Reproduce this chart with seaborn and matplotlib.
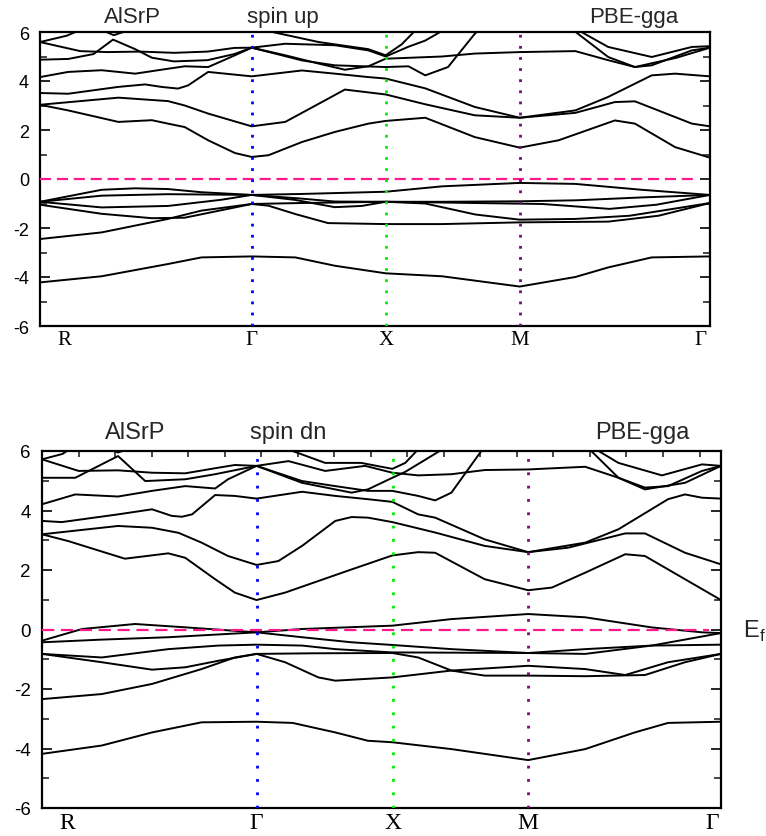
import matplotlib
matplotlib.use("Agg")
import matplotlib.pyplot as plt
import numpy as np
import pandas as pd
import seaborn as sns
from matplotlib.ticker import MultipleLocator
from matplotlib.transforms import ScaledTranslation

# ---------------- data ----------------
KPOINT_POS = [0.0, 0.316, 0.517, 0.716, 1.0]
KPOINT_LABELS = ["R", "Γ", "X", "M", "Γ"]
E_FERMI = 0.0

# spin up bands (k, E)
UP_V1 = [(0,-4.22),(0.092,-3.97),(0.191,-3.47),(0.241,-3.2),(0.316,-3.16),(0.381,-3.2),(0.44,-3.54),(0.516,-3.85),(0.6,-3.97),(0.716,-4.39),(0.799,-4.0),(0.848,-3.61),(0.913,-3.2),(1.0,-3.16)]
UP_V2 = [(0,-2.45),(0.092,-2.18),(0.191,-1.63),(0.241,-1.29),(0.316,-1.02),(0.341,-1.09),(0.381,-1.43),(0.43,-1.8),(0.516,-1.84),(0.6,-1.84),(0.716,-1.77),(0.848,-1.74),(0.923,-1.50),(1.0,-0.98)]
UP_V3 = [(0,-1.05),(0.092,-1.42),(0.167,-1.6),(0.216,-1.58),(0.266,-1.3),(0.316,-1.02),(0.391,-0.98),(0.44,-0.96),(0.516,-0.93),(0.575,-1.0),(0.65,-1.45),(0.716,-1.66),(0.799,-1.63),(0.88,-1.5),(1.0,-0.98)]
UP_V4 = [(0,-0.93),(0.092,-1.16),(0.191,-1.1),(0.27,-0.85),(0.316,-0.65),(0.38,-0.85),(0.44,-1.15),(0.48,-1.1),(0.516,-0.93),(0.6,-0.96),(0.75,-1.02),(0.85,-1.22),(0.92,-1.05),(1.0,-0.65)]
UP_V5 = [(0,-0.93),(0.092,-0.68),(0.191,-0.62),(0.316,-0.65),(0.39,-0.8),(0.44,-0.92),(0.516,-0.93),(0.6,-0.93),(0.716,-0.91),(0.8,-0.87),(0.9,-0.75),(1.0,-0.65)]
UP_V6 = [(0,-0.93),(0.092,-0.44),(0.142,-0.38),(0.191,-0.41),(0.241,-0.54),(0.316,-0.65),(0.391,-0.61),(0.516,-0.52),(0.6,-0.30),(0.716,-0.16),(0.799,-0.2),(0.898,-0.44),(1.0,-0.65)]
UP_C1 = [(0,3.03),(0.042,2.8),(0.117,2.33),(0.167,2.4),(0.191,2.26),(0.216,2.12),(0.251,1.58),(0.291,1.06),(0.316,0.90),(0.341,0.97),(0.391,1.51),(0.44,1.92),(0.49,2.26),(0.516,2.37),(0.575,2.50),(0.649,1.71),(0.716,1.28),(0.774,1.58),(0.858,2.39),(0.888,2.26),(0.948,1.3),(1.0,0.87)]
UP_C2 = [(0,3.03),(0.117,3.32),(0.191,3.18),(0.216,3.0),(0.251,2.67),(0.316,2.15),(0.366,2.33),(0.416,3.07),(0.455,3.65),(0.516,3.45),(0.575,3.05),(0.649,2.6),(0.716,2.5),(0.799,2.7),(0.858,3.14),(0.888,3.17),(0.973,2.26),(1.0,2.15)]
UP_C3 = [(0,3.51),(0.042,3.48),(0.117,3.76),(0.157,3.86),(0.181,3.76),(0.206,3.69),(0.221,3.82),(0.251,4.37),(0.316,4.19),(0.391,4.43),(0.44,4.3),(0.49,4.16),(0.516,4.1),(0.575,3.7),(0.649,2.94),(0.716,2.5),(0.799,2.8),(0.848,3.35),(0.913,4.23),(0.948,4.3),(1.0,4.19)]
UP_C4 = [(0,4.16),(0.042,4.37),(0.092,4.44),(0.142,4.3),(0.191,4.5),(0.216,4.6),(0.251,4.57),(0.291,5.05),(0.316,5.36),(0.391,4.84),(0.44,4.64),(0.516,4.57),(0.55,4.6),(0.575,4.23),(0.609,4.57),(0.649,5.93),(0.66,6.2)]
UP_C5 = [(0,4.87),(0.042,4.9),(0.08,5.1),(0.109,5.69),(0.142,5.3),(0.167,4.95),(0.2,4.8),(0.25,4.85),(0.29,5.1),(0.316,5.36),(0.366,5.05),(0.416,4.71),(0.455,4.46),(0.49,4.6),(0.516,4.91),(0.6,5.0),(0.649,5.12),(0.716,5.18),(0.799,5.22),(0.848,4.85),(0.888,4.57),(0.913,4.64),(0.973,5.25),(1.0,5.36)]
UP_C6 = [(0,5.59),(0.06,5.22),(0.1,5.18),(0.15,5.2),(0.2,5.15),(0.25,5.2),(0.29,5.35),(0.316,5.36),(0.366,5.52),(0.44,5.46),(0.49,5.25),(0.516,5.0),(0.55,5.4),(0.575,5.65),(0.61,6.2)]
UP_C7 = [(0,5.59),(0.04,5.85),(0.07,6.2)]
UP_C8 = [(0.095,6.05),(0.11,5.87),(0.13,6.05)]
UP_C9 = [(0.33,6.1),(0.416,5.59),(0.49,5.3),(0.516,5.05),(0.54,5.5),(0.565,6.2)]
UP_C10 = [(0.79,6.2),(0.848,4.98),(0.888,4.57),(0.95,4.95),(1.0,5.36)]
UP_C11 = [(0.795,6.2),(0.848,5.39),(0.913,4.98),(0.973,5.39),(1.0,5.42)]

# spin down bands (k, E)
DN_V1 = [(0,-4.18),(0.088,-3.90),(0.162,-3.46),(0.235,-3.12),(0.316,-3.10),(0.369,-3.14),(0.432,-3.46),(0.48,-3.74),(0.516,-3.79),(0.603,-4.02),(0.716,-4.39),(0.8,-4.02),(0.873,-3.46),(0.922,-3.14),(1.0,-3.10)]
DN_V2 = [(0,-2.34),(0.088,-2.17),(0.162,-1.83),(0.235,-1.33),(0.284,-0.94),(0.316,-0.82),(0.358,-1.10),(0.407,-1.61),(0.432,-1.72),(0.516,-1.61),(0.603,-1.38),(0.716,-1.22),(0.8,-1.33),(0.859,-1.53),(0.922,-1.10),(1.0,-0.82)]
DN_V3 = [(0,-0.82),(0.088,-1.10),(0.162,-1.35),(0.211,-1.27),(0.26,-1.05),(0.316,-0.82),(0.4,-0.80),(0.516,-0.79),(0.554,-0.94),(0.603,-1.38),(0.652,-1.55),(0.716,-1.55),(0.8,-1.57),(0.888,-1.53),(0.947,-1.10),(1.0,-0.82)]
DN_V4 = [(0,-0.82),(0.088,-0.94),(0.186,-0.66),(0.26,-0.54),(0.316,-0.51),(0.383,-0.54),(0.432,-0.66),(0.516,-0.77),(0.716,-0.79),(0.8,-0.66),(0.898,-0.54),(1.0,-0.51)]
DN_V5 = [(0,-0.43),(0.088,-0.34),(0.186,-0.26),(0.316,-0.095),(0.383,-0.26),(0.456,-0.43),(0.516,-0.52),(0.603,-0.66),(0.716,-0.79),(0.8,-0.82),(0.898,-0.54),(1.0,-0.12)]
DN_V6 = [(0,-0.376),(0.059,0.017),(0.137,0.185),(0.211,0.073),(0.316,-0.095),(0.383,0.017),(0.516,0.129),(0.603,0.35),(0.716,0.52),(0.8,0.41),(0.898,0.07),(0.972,-0.095),(1.0,-0.12)]
DN_C1 = [(0,3.20),(0.039,2.97),(0.122,2.38),(0.186,2.56),(0.211,2.41),(0.255,1.69),(0.284,1.24),(0.316,0.99),(0.358,1.24),(0.407,1.63),(0.456,2.02),(0.516,2.49),(0.554,2.6),(0.579,2.58),(0.652,1.69),(0.716,1.32),(0.751,1.41),(0.8,1.91),(0.859,2.53),(0.888,2.47),(0.947,1.69),(1.0,0.99)]
DN_C2 = [(0,3.20),(0.112,3.48),(0.162,3.42),(0.201,3.25),(0.235,2.92),(0.274,2.47),(0.316,2.17),(0.348,2.30),(0.383,2.81),(0.432,3.65),(0.456,3.78),(0.48,3.76),(0.516,3.61),(0.579,3.26),(0.652,2.81),(0.716,2.60),(0.775,2.75),(0.824,3.03),(0.859,3.23),(0.888,3.23),(0.947,2.58),(1.0,2.19)]
DN_C3 = [(0,3.65),(0.029,3.61),(0.112,3.87),(0.162,4.04),(0.191,3.82),(0.206,3.79),(0.221,3.87),(0.255,4.52),(0.284,4.49),(0.316,4.40),(0.383,4.63),(0.432,4.49),(0.48,4.38),(0.516,4.29),(0.554,3.87),(0.579,3.76),(0.652,3.03),(0.716,2.60),(0.8,2.92),(0.849,3.37),(0.922,4.38),(0.947,4.54),(0.972,4.43),(1.0,4.40)]
DN_C4 = [(0,4.21),(0.049,4.54),(0.112,4.47),(0.162,4.66),(0.211,4.82),(0.255,4.74),(0.274,5.05),(0.316,5.50),(0.383,4.99),(0.432,4.82),(0.48,4.66),(0.516,4.66),(0.554,4.49),(0.579,4.34),(0.603,4.6),(0.647,6.0),(0.652,6.2)]
DN_C5 = [(0,5.10),(0.049,5.10),(0.112,5.83),(0.152,4.99),(0.211,5.05),(0.255,5.22),(0.316,5.50),(0.383,4.93),(0.456,4.6),(0.48,4.71),(0.516,5.1),(0.535,5.3),(0.564,5.7),(0.6,6.2)]
DN_C6 = [(0,5.72),(0.054,5.33),(0.112,5.35),(0.162,5.27),(0.211,5.25),(0.26,5.44),(0.284,5.53),(0.316,5.50),(0.363,5.66),(0.417,5.33),(0.476,5.5),(0.516,5.27),(0.554,5.18),(0.603,5.22),(0.652,5.36),(0.716,5.38),(0.8,5.47),(0.849,5.1),(0.888,4.77),(0.922,4.82),(0.972,5.33),(1.0,5.50)]
DN_C7 = [(0,5.72),(0.03,5.9),(0.05,6.2)]
DN_C8 = [(0.1,6.05),(0.112,5.95),(0.125,6.05)]
DN_C9 = [(0.345,6.2),(0.417,5.6),(0.47,5.6),(0.516,5.4),(0.535,5.6),(0.56,6.2)]
DN_C10 = [(0.8,6.2),(0.849,5.1),(0.888,4.71),(0.947,4.93),(1.0,5.5)]
DN_C11 = [(0.805,6.2),(0.849,5.6),(0.913,5.18),(0.972,5.55),(1.0,5.5)]

UP_BANDS = [UP_V1, UP_V2, UP_V3, UP_V4, UP_V5, UP_V6, UP_C1, UP_C2, UP_C3, UP_C4,
            UP_C5, UP_C6, UP_C7, UP_C8, UP_C9, UP_C10, UP_C11]
DN_BANDS = [DN_V1, DN_V2, DN_V3, DN_V4, DN_V5, DN_V6, DN_C1, DN_C2, DN_C3, DN_C4,
            DN_C5, DN_C6, DN_C7, DN_C8, DN_C9, DN_C10, DN_C11]

Y_TICKS = [-6, -4, -2, 0, 2, 4, 6]


def to_frame(bands):
    rows = []
    for i, band in enumerate(bands):
        for k, e in band:
            rows.append((i, k, e))
    return pd.DataFrame(rows, columns=["band", "k", "E"])


# ---------------- figure ----------------
sns.set_theme(style="white")
plt.rcParams["font.family"] = ["Liberation Sans", "DejaVu Sans"]

fig = plt.figure(figsize=(7.66, 8.37), dpi=100)
ax_up = fig.add_axes([40 / 766, 1 - 327 / 837, 670 / 766, 294 / 837])
ax_dn = fig.add_axes([42 / 766, 1 - 809 / 837, 679 / 766, 357 / 837])

vcolors = ["#0000ff", "#00ee00", "#800080"]


def draw_panel(ax, bands, tick_fs, xlab_fs, dot_gap, dash, r_shift, g_shift, top_ticks):
    df = to_frame(bands)
    sns.lineplot(data=df, x="k", y="E", units="band", estimator=None, sort=False,
                 color="black", linewidth=1.4, ax=ax, legend=False)
    ax.axhline(E_FERMI, xmin=0, xmax=0.982, color="#ff1a8c", lw=1.6, dashes=dash, zorder=4)
    for kx, c in zip(KPOINT_POS[1:4], vcolors):
        ax.axvline(kx, color=c, lw=2.0, linestyle=(0, (1, dot_gap)), zorder=5)
    ax.set_xlim(0, 1)
    ax.set_ylim(-6, 6)
    ax.set_xlabel("")
    ax.set_ylabel("")
    for s in ax.spines.values():
        s.set_color("black")
        s.set_linewidth(1.6)
    ax.set_yticks(Y_TICKS)
    ax.set_yticklabels([str(t) for t in Y_TICKS], fontsize=tick_fs)
    ax.yaxis.set_minor_locator(MultipleLocator(1))
    ax.tick_params(axis="y", which="major", direction="in", left=True, right=True,
                   length=7, width=1.2, pad=8, colors="black")
    ax.tick_params(axis="y", which="minor", direction="in", left=True, right=True,
                   length=5, width=1.2)
    ax.set_xticks(KPOINT_POS)
    ax.set_xticklabels(KPOINT_LABELS, fontsize=xlab_fs, family=["Liberation Serif", "DejaVu Serif"])
    ax.tick_params(axis="x", which="major", length=0, pad=3, colors="black")
    if top_ticks:
        ax.xaxis.set_minor_locator(MultipleLocator(0.0538))
        ax.tick_params(axis="x", which="minor", direction="in", top=True, bottom=False,
                       length=4, width=1.2)
    labels = ax.get_xticklabels()
    labels[0].set_transform(labels[0].get_transform() + ScaledTranslation(r_shift / 100, 0, fig.dpi_scale_trans))
    labels[-1].set_transform(labels[-1].get_transform() + ScaledTranslation(g_shift / 100, 0, fig.dpi_scale_trans))


draw_panel(ax_up, UP_BANDS, 13, 15, 3, (5, 2.6), 24, -10, False)
draw_panel(ax_dn, DN_BANDS, 13.5, 17, 3.8, (5.5, 3), 25, -9, True)

# titles
tfs_up, tfs_dn = 16, 17
fig.text(132 / 766, 1 - 23 / 837, "AlSrP", ha="center", va="baseline", fontsize=tfs_up)
fig.text(283 / 766, 1 - 23 / 837, "spin up", ha="center", va="baseline", fontsize=tfs_up)
fig.text(634 / 766, 1 - 23 / 837, "PBE-gga", ha="center", va="baseline", fontsize=tfs_up)
fig.text(135 / 766, 1 - 439 / 837, "AlSrP", ha="center", va="baseline", fontsize=tfs_dn)
fig.text(288 / 766, 1 - 439 / 837, "spin dn", ha="center", va="baseline", fontsize=tfs_dn)
fig.text(642 / 766, 1 - 439 / 837, "PBE-gga", ha="center", va="baseline", fontsize=tfs_dn)
fig.text(743 / 766, 1 - 638 / 837, r"E$_\mathregular{f}$", ha="left", va="baseline", fontsize=17)

fig.savefig("out.png", dpi=100)
